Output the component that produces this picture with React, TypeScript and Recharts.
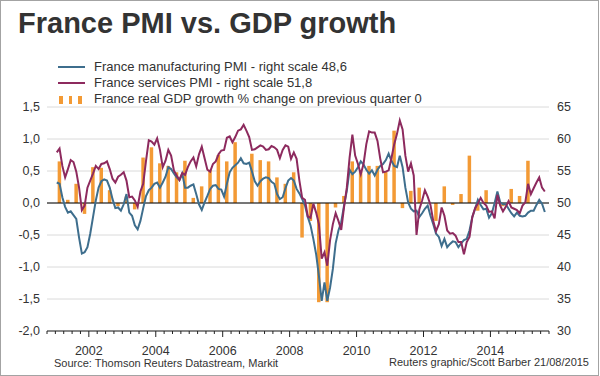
import { ComposedChart, Bar, Line, XAxis, YAxis, CartesianGrid, ReferenceLine } from "recharts";

const FONT = '"Liberation Sans", Arial, sans-serif';
const INK = "#333333";
const MFG_COLOR = "#3e6e8d";
const SVC_COLOR = "#8d2a5e";
const GDP_COLOR = "#f39a35";

// monthly readings, Jan 2001 .. Aug 2015 (one row per year)
const manufacturing = [
  53.2, 53.0, 50.9, 49.4, 48.5, 48.7, 48.1, 47.5, 44.6, 42.1, 42.3, 43.1,
  45.2, 47.8, 50.4, 52.4, 53.4, 53.7, 53.5, 52.4, 50.6, 49.2, 49.3, 48.8,
  49.8, 51.4, 48.5, 48.0, 46.5, 45.9, 47.2, 49.2, 51.1, 52.0, 52.4, 53.0,
  53.2, 52.4, 53.2, 54.1, 55.6, 55.3, 54.6, 54.0, 53.6, 54.6, 52.4, 52.4,
  52.7, 52.9, 51.4, 49.8, 48.9, 50.1, 51.1, 52.2, 52.7, 52.8, 52.2, 52.1,
  51.0, 53.0, 54.8, 55.5, 55.9, 56.3, 57.0, 56.2, 56.1, 56.3, 54.9, 53.4,
  52.7, 53.4, 53.8, 54.0, 53.9, 53.3, 53.0, 51.4, 50.6, 50.9, 52.3, 53.5,
  53.9, 53.5, 52.2, 51.5, 50.6, 49.6, 47.8, 46.5, 44.4, 42.0, 38.6, 34.7,
  37.6, 34.7, 36.8, 39.7, 43.7, 45.7, 47.0, 49.6, 51.9, 55.2, 54.5, 54.9,
  55.6, 56.5, 56.0, 55.2, 54.6, 55.1, 54.3, 55.2, 55.8, 56.1, 56.7, 57.7,
  56.6, 55.8, 55.6, 57.4, 55.6, 52.4, 50.1, 49.1, 48.7, 48.8, 47.8, 48.4,
  49.1, 49.6, 48.0, 46.7, 45.2, 44.7, 43.3, 44.4, 43.1, 43.6, 44.0, 43.9,
  43.1, 43.7, 44.2, 44.4, 45.7, 47.8, 49.1, 50.5, 49.7, 49.0, 49.1, 47.7,
  48.4, 50.0, 51.8, 50.1, 49.8, 49.8, 49.1, 48.4, 47.9, 48.5, 48.0, 47.9,
  48.0, 48.5, 48.8, 48.8, 49.7, 50.5, 49.9, 48.6,
];

const services = [
  57.9, 58.5, 55.8, 54.0, 55.3, 56.7, 56.4, 54.9, 52.4, 48.9, 49.6, 52.4,
  53.5, 54.6, 55.8, 55.3, 56.1, 56.2, 56.5, 55.3, 53.8, 53.2, 54.1, 54.4,
  54.8, 53.5, 50.9, 51.0, 50.4, 49.4, 51.8, 53.0, 56.6, 59.8, 59.6, 59.1,
  60.1, 58.3, 55.6, 56.6, 58.3, 57.4, 55.1, 54.3, 53.6, 54.7, 54.4, 55.6,
  56.5, 57.1, 55.7, 57.6, 58.8, 57.0, 55.2, 54.9, 56.1, 56.5, 57.6, 58.2,
  58.3, 60.2, 60.4, 59.5, 60.3, 61.3, 61.5, 62.2, 61.3, 60.3, 58.3, 58.4,
  58.7, 59.0, 58.8, 58.3, 58.4, 58.9, 58.7, 58.3, 57.0, 58.3, 59.0, 58.8,
  56.9, 57.9, 56.9, 53.5, 50.8, 50.5, 47.9, 47.7, 49.9, 48.5, 46.7, 41.3,
  42.3, 40.2, 44.2, 46.7, 48.4, 47.2, 45.8, 49.3, 52.4, 57.1, 60.7, 57.4,
  56.1, 54.5, 56.1, 59.2, 61.2, 61.0, 61.0, 59.7, 56.9, 54.8, 54.9, 55.1,
  57.0, 59.2, 60.8, 62.9, 61.5, 57.4, 54.9, 56.2, 54.3, 45.0, 49.0, 50.4,
  52.0, 51.0, 49.7, 47.2, 45.6, 46.7, 49.3, 48.0, 45.7, 45.2, 45.3, 44.9,
  43.9, 43.9, 42.0, 43.9, 44.7, 47.8, 49.2, 49.9, 50.8, 50.0, 49.6, 48.6,
  48.7, 47.6, 51.3, 49.6, 48.7, 49.4, 50.3, 49.3, 49.1, 48.9, 48.4, 49.6,
  50.1, 53.0, 51.4, 52.3, 53.2, 54.0, 52.4, 51.8,
];

// quarterly GDP growth, Q1 2001 .. Q2 2015
const gdpGrowth = [
  0.65, 0.05, 0.3, -0.17,
  0.56, 0.55, 0.2, -0.05,
  0.1, -0.1, 0.71, 0.87,
  0.62, 0.58, 0.48, 0.66,
  0.08, 0.26, 0.52, 0.75,
  0.65, 0.95, 0.0, 0.77,
  0.67, 0.65, 0.4, 0.3,
  0.48, -0.54, -0.28, -1.55,
  -1.55, -0.07, 0.11, 0.65,
  0.49, 0.58, 0.58, 0.49,
  1.13, -0.08, 0.19, 0.24,
  0.0, -0.28, 0.26, -0.03,
  0.14, 0.74, -0.12, 0.2,
  0.0, -0.05, 0.22, 0.11,
  0.66, 0.0,
];

const FIRST_YEAR = 2001;
const gdpTicks = [-2, -1.5, -1, -0.5, 0, 0.5, 1, 1.5];
const pmiTicks = [30, 35, 40, 45, 50, 55, 60, 65];
const yearLabels = [2002, 2004, 2006, 2008, 2010, 2012, 2014];
const quarterTicks = Array.from({ length: 61 }, (_, i) => 2000.75 + i * 0.25);

// monthly rows; each quarter's GDP sits on its middle month
const rows = manufacturing.map((m, i) => ({
  t: FIRST_YEAR + (i + 0.5) / 12,
  mfg: m,
  svc: services[i],
  gdp: i % 3 === 1 ? gdpGrowth[(i - 1) / 3] ?? null : null,
}));

const comma = (v: number, d = 1) => v.toFixed(d).replace(".", ",");
const last = (a: number[]) => a[a.length - 1];

const QuarterTick = (props: any) => {
  const { x, y, payload } = props;
  const major = yearLabels.includes(payload.value);
  return (
    <g>
      <line x1={x} x2={x} y1={y} y2={y + (major ? 6 : 3)} stroke="#222" />
      {major && (
        <text x={x} y={y + 23.5} textAnchor="middle" fill={INK} fontSize={12.5} fontFamily={FONT}>
          {payload.value}
        </text>
      )}
    </g>
  );
};

// thin fixed-width column centred on the quarter
const GdpBar = (props: any) => {
  const { x, y, width, height } = props;
  if (height == null || Math.abs(height) < 0.5) return <g />;
  const cx = x + width / 2;
  return (
    <rect x={cx - 1.75} y={Math.min(y, y + height)} width={3.5} height={Math.abs(height)} fill={GDP_COLOR} />
  );
};

const axisText = { fill: INK, fontSize: 12.5, fontFamily: FONT };

const legendRows = [
  { label: `France manufacturing PMI - right scale ${comma(last(manufacturing))}`, kind: "line", color: MFG_COLOR, top: 58.5 },
  { label: `France services PMI - right scale ${comma(last(services))}`, kind: "line", color: SVC_COLOR, top: 74.5 },
  { label: `France real GDP growth % change on previous quarter ${comma(last(gdpGrowth), 0)}`, kind: "bar", color: GDP_COLOR, top: 91 },
];

export default function App() {
  return (
    <div style={{ position: "absolute", left: 0, top: 0, width: 600, height: 376, background: "#fff", fontFamily: FONT, color: INK }}>
      <div
        style={{
          position: "absolute", left: 0, top: 0, width: 599, height: 376,
          border: "1px solid #a3a3a3", boxSizing: "border-box", pointerEvents: "none",
        }}
      />
      <div style={{ position: "absolute", left: 18, top: 8.5, fontSize: 29, lineHeight: "29px", fontWeight: "bold", whiteSpace: "nowrap" }}>
        France PMI vs. GDP growth
      </div>

      {legendRows.map((r) => (
        <div key={r.label}>
          {r.kind === "line" ? (
            <div style={{ position: "absolute", left: 58, top: r.top + 7, width: 27, height: 2, background: r.color }} />
          ) : (
            [59, 68.5, 78].map((lx) => (
              <div key={lx} style={{ position: "absolute", left: lx, top: r.top + 5, width: 3.5, height: 8, background: r.color }} />
            ))
          )}
          <div style={{ position: "absolute", left: 94, top: r.top, fontSize: 13, lineHeight: "16px", whiteSpace: "nowrap" }}>
            {r.label}
          </div>
        </div>
      ))}

      <div style={{ position: "absolute", left: 0, top: 0 }}>
        <ComposedChart width={600} height={376} data={rows} margin={{ top: 107, right: 0, bottom: 0, left: 0 }}>
          <CartesianGrid vertical={false} stroke="#dadada" />
          <XAxis
            dataKey="t"
            type="number"
            domain={[2000.75, 2015.75]}
            ticks={quarterTicks}
            interval={0}
            tick={<QuarterTick />}
            tickLine={false}
            tickSize={0}
            tickMargin={0}
            axisLine={{ stroke: "#222" }}
            height={45}
            allowDataOverflow
          />
          <YAxis
            orientation="left"
            width={47}
            domain={[-2, 1.5]}
            ticks={gdpTicks}
            tickFormatter={(v: number) => comma(v)}
            axisLine={false}
            tickLine={false}
            tickSize={0}
            tickMargin={7}
            tick={axisText}
            allowDataOverflow
          />
          <YAxis
            yAxisId="pmi"
            orientation="right"
            width={51}
            domain={[30, 65]}
            ticks={pmiTicks}
            axisLine={false}
            tickLine={false}
            tickSize={0}
            tickMargin={8}
            tick={axisText}
            allowDataOverflow
          />
          <Bar dataKey="gdp" barSize={3} shape={<GdpBar />} isAnimationActive={false} />
          <ReferenceLine y={0} stroke="#000" strokeWidth={1} />
          <Line yAxisId="pmi" type="linear" dataKey="mfg" stroke={MFG_COLOR} strokeWidth={2} dot={false} isAnimationActive={false} />
          <Line yAxisId="pmi" type="linear" dataKey="svc" stroke={SVC_COLOR} strokeWidth={2} dot={false} isAnimationActive={false} />
        </ComposedChart>
      </div>

      <div style={{ position: "absolute", left: 54, top: 357, fontSize: 11, lineHeight: "13px", whiteSpace: "nowrap" }}>
        Source: Thomson Reuters Datastream, Markit
      </div>
      <div style={{ position: "absolute", right: 11, top: 356, fontSize: 11, lineHeight: "13px", whiteSpace: "nowrap" }}>
        Reuters graphic/Scott Barber 21/08/2015
      </div>
    </div>
  );
}
